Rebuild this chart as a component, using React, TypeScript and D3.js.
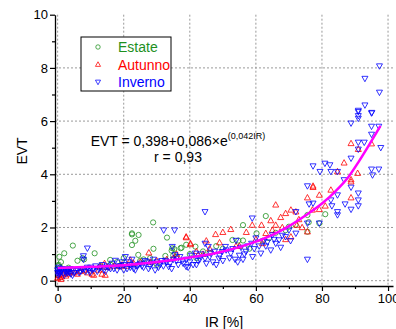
import { useEffect, useRef } from 'react'
import * as d3 from 'd3'

// [IR %, EVT]
const estate: [number, number][] = [
  [0.3, 0.6], [0.5, 0.9], [0.2, 0.45], [0.8, 0.5], [0.25, 0.55], [2.0, 1.03], [3.3, 0.49], [4.6, 1.32],
  [1, 0.7], [6, 0.75], [7.5, 0.85], [8, 0.8], [11.2, 1.03], [13, 0.55], [15.9, 0.78], [16, 0.6],
  [18, 0.7], [20, 0.85], [22.5, 1.78], [22.5, 1.74], [23.5, 1.5], [24.5, 1.72], [22.5, 1.34],
  [24.4, 0.97], [25, 0.75], [26, 0.8], [28.9, 2.19], [28, 0.85], [29, 1.2], [30, 0.6], [32.6, 0.93],
  [33.1, 1.62], [34.5, 1.13], [35.3, 1.19], [34.7, 1.22], [35, 0.95], [36, 0.9], [37.2, 1.22],
  [37.5, 1.24], [38.9, 1.35], [40, 1.0], [41.7, 1.28], [42, 0.85], [44, 1.1], [46, 1.05], [48, 1.3],
  [50, 1.2], [52.9, 1.53], [54.7, 1.51], [56.1, 1.51], [56.1, 2.09], [58, 1.2], [60.2, 1.78],
  [62, 1.5], [63, 2.43], [64, 1.6], [66, 1.8], [69, 1.9], [70, 2.03], [72, 2.1], [75.6, 2.47],
  [75.6, 1.84], [79.2, 2.16], [81, 2.5], [76, 2.2]
]

const autunno: [number, number][] = [
  [0, 0.1], [0.3, 0.35], [0.5, 0.2], [0.7, 0.12], [1, 0.05], [1.2, 0.15], [1.5, 0.25], [2, 0.3],
  [2.5, 0.18], [3, 0.25], [3.5, 0.3], [4, 0.35], [5, 0.3], [6, 0.25], [7, 0.35], [8, 0.4], [9, 0.3],
  [10.4, 0.25], [10.9, 0.21], [12.4, 0.4], [12.9, 0.53], [13.4, 0.25], [14.4, 0.21], [14.2, 0.65],
  [15, 0.5], [17, 0.55], [19, 0.53], [19.5, 0.6], [21, 0.55], [22, 0.78], [23, 0.65], [25, 0.7],
  [27.6, 1.05], [28, 0.7], [30, 0.75], [33, 0.8], [35, 0.85], [36, 1.0], [38.9, 1.62], [38.9, 1.65],
  [40.2, 1.36], [40.2, 1.4], [42, 1.1], [44, 1.0], [45, 1.5], [46, 1.2], [47.8, 1.74], [49, 1.43],
  [50, 1.82], [52.4, 1.93], [54, 1.3], [55, 1.3], [57.1, 1.82], [58.9, 2.09], [60, 1.55],
  [61.7, 2.09], [62, 1.4], [63, 1.78], [64.5, 2.26], [65, 1.9], [66, 2.85], [66, 2.09], [67.5, 2.38],
  [68, 2.0], [69, 2.53], [69, 1.55], [70.6, 2.66], [70.6, 1.65], [72.1, 2.59], [72.4, 2.09],
  [73, 2.3], [74, 2.0], [75.6, 1.84], [75.6, 3.12], [77.1, 2.66], [77.3, 3.51], [77.3, 3.56],
  [79.2, 2.68], [79.2, 3.22], [81, 2.81], [82.7, 3.41], [84.7, 4.1], [86.7, 4.43], [88.8, 3.72],
  [88.8, 3.12], [88.8, 3.8], [88.8, 5.16], [90.8, 4.04], [91, 4.94], [95, 5.15]
]

const inverno: [number, number][] = [
  [0, 0.3], [0, 0.4], [0.2, 0.2], [0.3, 0.5], [0.4, 0.32], [0.5, 0.25], [0.6, 0.42], [0.8, 0.28],
  [1, 0.35], [1.2, 0.38], [1.5, 0.45], [1.8, 0.3], [2, 0.2], [2.2, 0.42], [2.5, 0.35], [2.8, 0.28],
  [3, 0.4], [3.2, 0.35], [3.5, 0.3], [3.8, 0.45], [4, 0.25], [4.5, 0.2], [5, 0.3], [5.5, 0.38],
  [6, 0.4], [6.5, 0.3], [7, 0.35], [7.5, 0.42], [7.8, 0.93], [7.8, 0.8], [8, 0.45], [8.5, 0.35],
  [9, 1.22], [9, 0.5], [9.5, 0.4], [9.8, 0.3], [10, 0.5], [10.5, 0.4], [11, 0.45], [11.5, 0.55],
  [12, 0.35], [12.5, 0.45], [13, 0.5], [13.5, 0.6], [14, 0.4], [14.5, 0.35], [15, 0.55], [15.5, 0.5],
  [16, 0.45], [16.5, 0.65], [17, 0.45], [17.5, 0.76], [18, 0.4], [18.5, 0.55], [19, 0.55],
  [19.5, 0.7], [20, 0.4], [20, 0.6], [20.5, 0.9], [21, 0.45], [21.5, 0.7], [22, 0.5], [22, 0.6],
  [22.5, 0.8], [23, 0.45], [23.5, 0.4], [24, 0.55], [24.5, 0.6], [25, 0.65], [25.5, 0.55], [26, 0.5],
  [26.5, 0.75], [27, 0.7], [27.5, 0.45], [28, 0.55], [28.5, 0.65], [29, 0.8], [29.5, 0.4], [30, 0.7],
  [30.5, 0.5], [31, 0.6], [31.5, 0.75], [32, 0.55], [32.1, 1.9], [32.6, 0.76], [33, 0.7],
  [33.6, 0.53], [34, 0.65], [34.5, 0.45], [34.7, 1.28], [35, 0.8], [35.4, 1.9], [35.5, 0.97],
  [36, 0.75], [36.5, 0.6], [37, 0.9], [37.8, 0.76], [38, 0.65], [38.9, 0.53], [39, 0.8], [39.5, 0.5],
  [40, 0.7], [40.5, 0.95], [41, 0.6], [41.7, 1.03], [42, 0.6], [42.5, 0.75], [43, 0.8], [43.5, 1.0],
  [44.6, 2.59], [44.6, 1.4], [44.6, 0.84], [45, 0.65], [45.6, 1.28], [46, 0.9], [46.3, 1.03],
  [47, 0.7], [47.5, 1.1], [48, 0.6], [48.8, 0.84], [49, 0.95], [49.8, 1.09], [50, 0.75], [50.8, 1.28],
  [51, 1.15], [52, 0.85], [52.4, 1.03], [53, 1.2], [53.7, 0.8], [54, 1.51], [54.5, 0.7], [55, 0.95],
  [55.5, 1.25], [56.1, 0.8], [56.5, 1.0], [57, 1.1], [57.5, 1.3], [58.7, 1.4], [58.9, 2.35],
  [59, 0.9], [59.5, 1.2], [60, 1.6], [61, 1.3], [61.5, 1.03], [62.4, 1.48], [63, 1.3], [63.5, 1.45],
  [64.5, 1.15], [65, 1.72], [65.5, 1.55], [66, 1.4], [67, 1.53], [67.5, 1.25], [68, 1.7], [69, 1.65],
  [70, 1.9], [70.5, 1.5], [72.1, 1.78], [72.1, 2.59], [75.6, 2.16], [75.6, 0.8], [75.6, 3.56],
  [76.1, 2.88], [77.3, 4.31], [77.3, 2.91], [79.2, 2.16], [79.4, 4.1], [80.9, 4.41], [82.4, 4.35],
  [82.7, 4.1], [82.7, 3.03], [83, 2.81], [84.7, 4.1], [84.7, 3.22], [84.7, 2.59], [84.7, 2.47],
  [86.7, 3.79], [87, 2.88], [88.8, 5.92], [88.8, 4.6], [88.8, 3.51], [88.8, 2.68], [91, 6.35],
  [91, 6.4], [91, 6.2], [91, 6.1], [91, 5.2], [91, 4.94], [91, 3.29], [91, 3.03], [91, 2.81],
  [92.8, 5.2], [93, 7.6], [93, 6.6], [95, 6.3], [95.1, 6.32], [95, 5.8], [95, 5.5], [95, 4.19],
  [95.3, 3.97], [97.2, 5.8], [97.2, 4.19], [97.4, 8.07], [97.4, 7.08], [97.8, 5.0]
]

// fitted curve
const fitIR = [0, 10, 20, 30, 40, 50, 60, 66, 70, 75, 80, 84, 88, 91, 94, 97.7]
const fitEVT = [0.48, 0.52, 0.58, 0.7, 0.87, 1.1, 1.47, 1.78, 2.05, 2.45, 2.9, 3.35, 3.9, 4.45, 5.05, 5.82]

const xTicks = [0, 20, 40, 60, 80, 100]
const xMinor = [10, 30, 50, 70, 90]
const yTicks = [0, 2, 4, 6, 8, 10]
const yMinor = [1, 3, 5, 7, 9]

const GREEN = '#1e901e'
const RED = '#ff0000'
const BLUE = '#0000ff'
const FONT = "Arial, 'Liberation Sans', sans-serif"

const circle = 'M2.6,0A2.6,2.6 0 1,1 -2.6,0A2.6,2.6 0 1,1 2.6,0Z'
const triUp = 'M0,-3.2L3,2.2L-3,2.2Z'
const triDown = 'M0,3.2L3,-2.2L-3,-2.2Z'

export default function App() {
  const ref = useRef<SVGSVGElement>(null)

  useEffect(() => {
    const svg = d3.select(ref.current)
    svg.selectAll('*').remove()

    const x = d3.scaleLinear().domain([-0.8, 101.5]).range([55, 393])
    const y = d3.scaleLinear().domain([-0.2, 10]).range([286, 14.7])

    // grid
    const grid = svg.append('g').attr('stroke', '#999').attr('stroke-width', 1).attr('stroke-dasharray', '2,2')
    grid.selectAll('.gx').data(xTicks).enter().append('line')
      .attr('x1', d => x(d)).attr('x2', d => x(d)).attr('y1', y(10)).attr('y2', 286)
    grid.selectAll('.gy').data(yTicks.filter(d => d < 10)).enter().append('line')
      .attr('y1', d => y(d)).attr('y2', d => y(d)).attr('x1', 55).attr('x2', 393)

    // axes
    const xAxis = svg.append('g').attr('transform', 'translate(0,286)')
      .call(d3.axisBottom(x).tickValues(xTicks).tickSize(5).tickSizeOuter(0).tickPadding(3))
    svg.append('g').attr('transform', 'translate(0,286)')
      .call(d3.axisBottom(x).tickValues(xMinor).tickSize(3).tickSizeOuter(0).tickFormat(() => ''))
      .select('.domain').remove()
    const yAxis = svg.append('g').attr('transform', 'translate(55,0)')
      .call(d3.axisLeft(y).tickValues(yTicks).tickSize(5).tickSizeOuter(0).tickPadding(2))
    svg.append('g').attr('transform', 'translate(55,0)')
      .call(d3.axisLeft(y).tickValues(yMinor).tickSize(3).tickSizeOuter(0).tickFormat(() => ''))
      .select('.domain').remove()
    svg.selectAll('.domain').attr('stroke', '#000').attr('stroke-width', 1.3)
    svg.selectAll('.tick line').attr('stroke', '#000').attr('stroke-width', 1.2)
    ;[xAxis, yAxis].forEach(a => a.selectAll('text').attr('font-size', 13).attr('font-family', FONT).attr('fill', '#000'))

    // points
    const series: [[number, number][], string, string][] = [
      [estate, GREEN, circle],
      [autunno, RED, triUp],
      [inverno, BLUE, triDown]
    ]
    series.forEach(([data, color, shape]) => {
      svg.append('g').selectAll('path').data(data).enter().append('path')
        .attr('d', shape)
        .attr('transform', d => `translate(${x(d[0])},${y(d[1])})`)
        .attr('fill', 'none').attr('stroke', color).attr('stroke-width', 0.8)
    })

    // fit
    const line = d3.line<number>().x(d => x(fitIR[d])).y(d => y(fitEVT[d])).curve(d3.curveMonotoneX)
    svg.append('path').attr('d', line(fitIR.map((_, i) => i)))
      .attr('fill', 'none').attr('stroke', '#ff00ff').attr('stroke-width', 2.5)

    // axis titles
    svg.append('text').attr('x', 224).attr('y', 327).attr('text-anchor', 'middle')
      .attr('font-size', 14).attr('font-family', FONT).text('IR [%]')
    svg.append('text').attr('transform', 'translate(27,151) rotate(-90)').attr('text-anchor', 'middle')
      .attr('font-size', 14).attr('font-family', FONT).text('EVT')

    // equation
    const eq = svg.append('text').attr('x', 178).attr('y', 146).attr('text-anchor', 'middle')
      .attr('font-size', 14).attr('font-family', FONT)
    eq.append('tspan').text('EVT = 0,398+0,086×e')
    eq.append('tspan').attr('font-size', 9).attr('dy', -7).text('(0,042IR)')
    svg.append('text').attr('x', 178).attr('y', 162).attr('text-anchor', 'middle')
      .attr('font-size', 14).attr('font-family', FONT).text('r = 0,93')

    // legend
    const lg = svg.append('g')
    lg.append('rect').attr('x', 81).attr('y', 37).attr('width', 90).attr('height', 54)
      .attr('fill', '#fff').attr('stroke', '#000').attr('stroke-width', 1)
    const items: [string, string, string][] = [['Estate', GREEN, circle], ['Autunno', RED, triUp], ['Inverno', BLUE, triDown]]
    items.forEach(([name, color, shape], i) => {
      const cy = 47 + i * 17.5
      lg.append('path').attr('d', shape).attr('transform', `translate(98,${cy}) scale(0.85)`)
        .attr('fill', 'none').attr('stroke', color).attr('stroke-width', 0.9)
      lg.append('text').attr('x', 118).attr('y', cy + 5).attr('font-size', 14).attr('font-family', FONT)
        .attr('fill', color).text(name)
    })
  }, [])

  return (
    <svg ref={ref} width={396} height={329}
      style={{ position: 'absolute', left: 0, top: 0, background: '#fff' }} />
  )
}
